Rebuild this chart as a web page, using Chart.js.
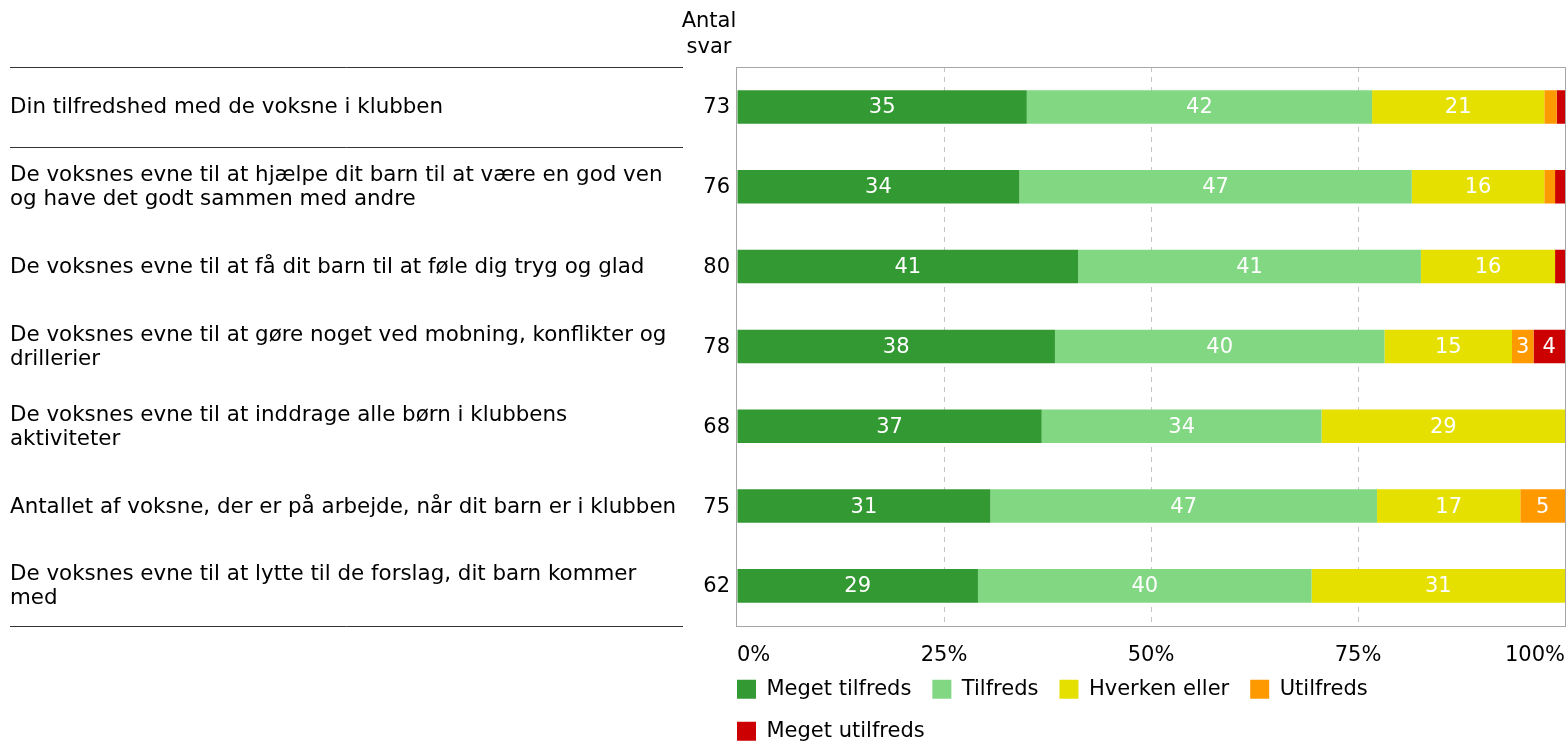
<!DOCTYPE html>
<html lang="da">
<head>
<meta charset="utf-8">
<title>Tilfredshed med de voksne i klubben</title>
<script src="https://cdn.jsdelivr.net/npm/chart.js@4.4.1/dist/chart.umd.min.js"></script>
<style>
  html, body { margin: 0; padding: 0; background: #fff; overflow: hidden; }
  #wrap { position: relative; width: 1566px; height: 744px; }
  #wrap canvas { display: block; }
</style>
</head>
<body>
<div id="wrap"><canvas id="chart"></canvas></div>
<script>
// Questions (one entry per row, split into display lines)
const questions = [
  ["Din tilfredshed med de voksne i klubben"],
  ["De voksnes evne til at hjælpe dit barn til at være en god ven", "og have det godt sammen med andre"],
  ["De voksnes evne til at få dit barn til at føle dig tryg og glad"],
  ["De voksnes evne til at gøre noget ved mobning, konflikter og", "drillerier"],
  ["De voksnes evne til at inddrage alle børn i klubbens", "aktiviteter"],
  ["Antallet af voksne, der er på arbejde, når dit barn er i klubben"],
  ["De voksnes evne til at lytte til de forslag, dit barn kommer", "med"],
];
const answerCounts = [73, 76, 80, 78, 68, 75, 62];

// Share of answers in percent
const megetTilfreds = [35.0, 34.1, 41.2, 38.4, 36.8, 30.6, 29.1];
const tilfreds = [41.7, 47.4, 41.4, 39.8, 33.8, 46.7, 40.3];
const hverkenEller = [20.8, 16.0, 16.2, 15.4, 29.4, 17.3, 30.6];
const utilfreds = [1.5, 1.3, 0, 2.6, 0, 5.4, 0];
const megetUtilfreds = [1.0, 1.2, 1.2, 3.8, 0, 0, 0];

const seriesNames = ["Meget tilfreds", "Tilfreds", "Hverken eller", "Utilfreds", "Meget utilfreds"];
const seriesColors = ["#339933", "#82d882", "#e6e000", "#ff9900", "#cc0000"];
const xTicks = [0, 25, 50, 75, 100];

const FONT = "'DejaVu Sans', Verdana, sans-serif";
const FONT_SIZE = 21;

// ---------- Plugin: frame, row labels, counts and in-bar values ----------
const surveyDecor = {
  id: "surveyDecor",
  afterLayout(chart) {
    // legend starts flush with the plot area, just below the axis labels
    const lg = chart.legend;
    const pad = lg.options.labels.padding;
    lg.left = chart.chartArea.left - pad;
    lg.top = chart.chartArea.bottom + 32;
  },
  beforeDatasetsDraw(chart) {
    const { ctx, chartArea: a } = chart;
    ctx.save();
    ctx.strokeStyle = "#a6a6a6";
    ctx.lineWidth = 1;
    ctx.strokeRect(Math.round(a.left) - 0.5, Math.round(a.top) + 0.5,
      Math.round(a.right - a.left) + 1, Math.round(a.bottom - a.top));
    ctx.restore();
  },
  afterDatasetsDraw(chart) {
    const { ctx, chartArea: a } = chart;
    const y = chart.scales.y;
    ctx.save();
    ctx.font = `${FONT_SIZE}px ${FONT}`;

    // values inside the segments
    ctx.fillStyle = "#fff";
    ctx.textAlign = "center";
    ctx.textBaseline = "middle";
    chart.data.datasets.forEach((ds, di) => {
      const meta = chart.getDatasetMeta(di);
      meta.data.forEach((el, i) => {
        const v = ds.data[i];
        if (v < 2) return;
        ctx.fillText(Math.round(v), (el.x + el.base) / 2, el.y + 1);
      });
    });

    // question text on the left, count just left of the plot
    ctx.fillStyle = "#000";
    const lineGap = 24;
    questions.forEach((lines, i) => {
      const cy = y.getPixelForValue(i);
      ctx.font = `21.4px ${FONT}`;
      ctx.textAlign = "left";
      lines.forEach((t, k) => {
        ctx.fillText(t, 10, cy + 1 + (k - (lines.length - 1) / 2) * lineGap);
      });
      ctx.font = `${FONT_SIZE}px ${FONT}`;
      ctx.textAlign = "right";
      ctx.fillText(answerCounts[i], a.left - 7, cy + 1);
    });

    // column header
    ctx.textAlign = "center";
    ctx.fillText("Antal", 709, 22);
    ctx.fillText("svar", 709, 48);

    // separator lines: top, after first row, bottom
    const split = (y.getPixelForValue(0) + y.getPixelForValue(1)) / 2;
    ctx.strokeStyle = "#333";
    ctx.lineWidth = 1;
    [a.top, split, a.bottom].forEach(py => {
      const yy = Math.round(py) + 0.5;
      ctx.beginPath();
      ctx.moveTo(10, yy);
      ctx.lineTo(683, yy);
      ctx.stroke();
    });
    ctx.restore();
  },
};

const dataSets = [megetTilfreds, tilfreds, hverkenEller, utilfreds, megetUtilfreds].map((d, i) => ({
  label: seriesNames[i],
  data: d,
  backgroundColor: seriesColors[i],
  borderWidth: 0,
  barPercentage: 0.42,
  categoryPercentage: 1,
}));

new Chart(document.getElementById("chart"), {
  type: "bar",
  data: { labels: questions.map(q => q.join(" ")), datasets: dataSets },
  plugins: [surveyDecor],
  options: {
    indexAxis: "y",
    responsive: true,
    maintainAspectRatio: false,
    animation: false,
    events: [],
    layout: { padding: { left: 737, right: 1, top: 67, bottom: -35 } },
    font: { family: FONT, size: FONT_SIZE },
    plugins: {
      tooltip: { enabled: false },
      legend: {
        position: "bottom",
        align: "start",
        fullSize: false,
        labels: {
          boxWidth: 19,
          boxHeight: 19,
          padding: 21,
          color: "#000",
          font: { family: FONT, size: FONT_SIZE },
        },
      },
    },
    scales: {
      x: {
        stacked: true,
        min: 0,
        max: 100,
        afterBuildTicks: s => { s.ticks = xTicks.map(v => ({ value: v })); },
        // end labels sit inside the plot width, so no side padding is needed
        afterFit: s => { s.paddingLeft = 0; s.paddingRight = 0; },
        ticks: {
          align: "inner",
          padding: 17,
          color: "#000",
          font: { family: FONT, size: FONT_SIZE },
          callback: v => v + "%",
        },
        grid: {
          drawTicks: false,
          lineWidth: 1,
          color: c => (c.tick && (c.tick.value === 0 || c.tick.value === 100)) ? "rgba(0,0,0,0)" : "#c4c4c4",
        },
        border: { display: false, dash: [5, 5] },
      },
      y: {
        stacked: true,
        display: false,
      },
    },
  },
});
</script>
</body>
</html>
